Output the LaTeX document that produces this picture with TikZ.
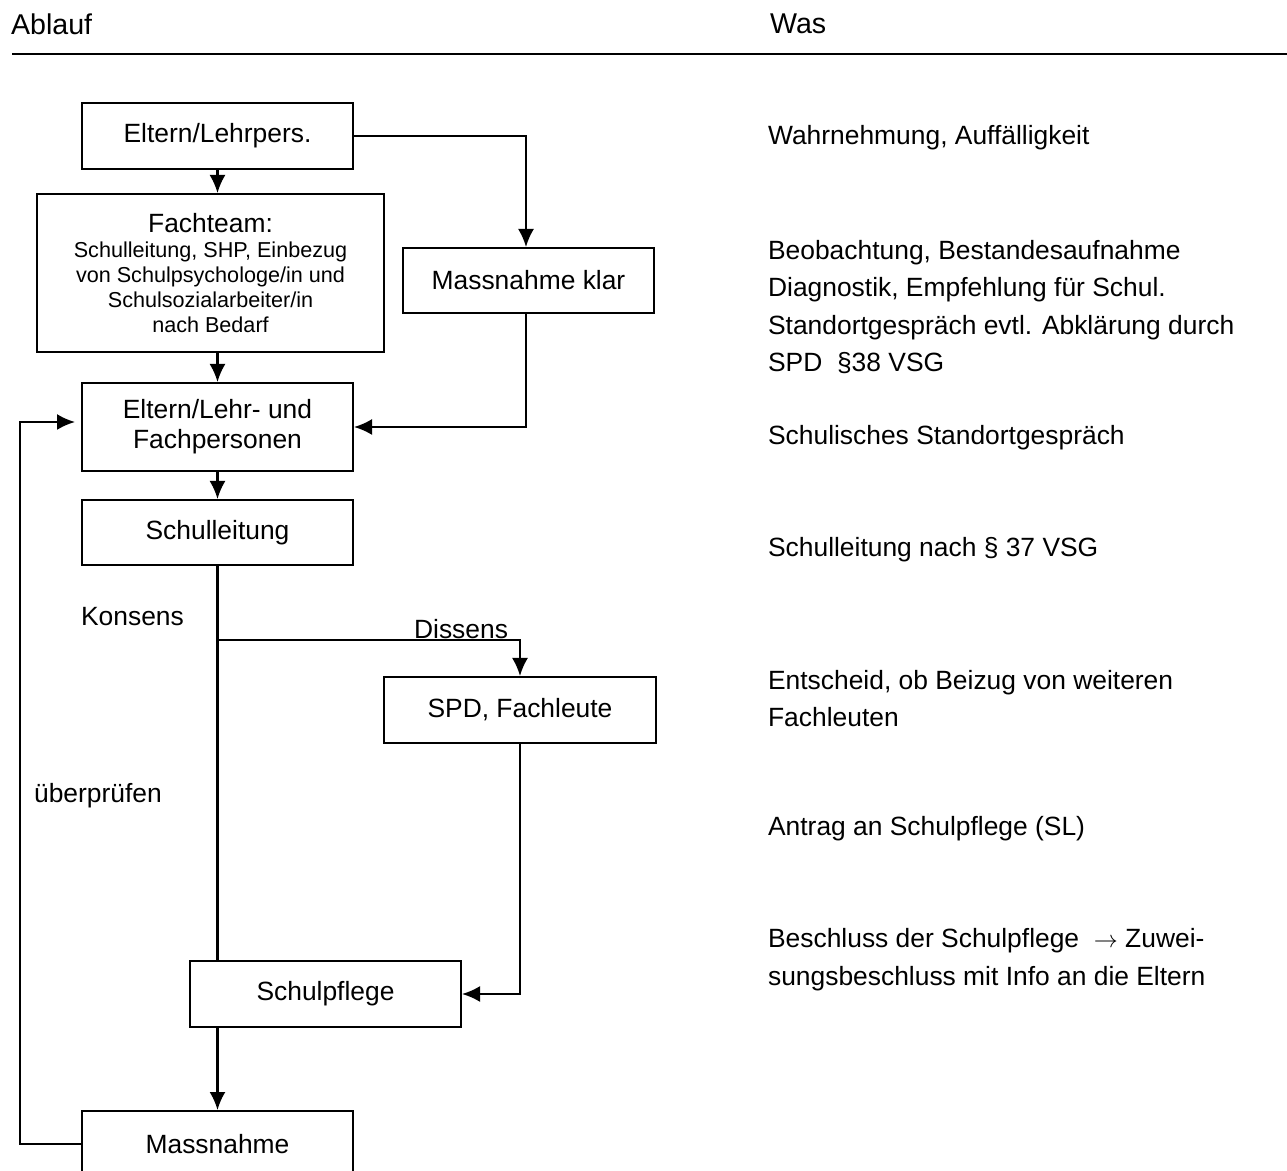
\documentclass[tikz,border=0pt]{standalone}
\usepackage{fontspec}
\setmainfont{Liberation Sans}
\usetikzlibrary{arrows.meta,positioning}

\begin{document}
\begin{tikzpicture}[x=0.5pt,y=-0.5pt,>={Latex[length=9pt,width=8pt]},line width=1.1pt,
  every node/.style={inner sep=0pt,font=\fontsize{13.2}{15}\selectfont},
  box/.style={draw,line width=1pt,align=center,minimum width=135.5pt,minimum height=33pt},
  was/.style={anchor=west,align=left,font=\fontsize{13.2}{18.75}\selectfont}]
\useasboundingbox (0,0) rectangle (1287,1171);
%% Kopfzeile
\node (ablauf) at (10,24) [anchor=west,font=\fontsize{14.3}{16}\selectfont] {Ablauf};
\node (was) at (769,24) [anchor=west,font=\fontsize{14.3}{16}\selectfont] {Was};
\draw [line width=1.3pt] (12,54) -- (1287,54);
%% Ablauf
\node (elt) at (217.5,136) [box] {Eltern/Lehrpers.};
\node (fach) at (210.5,273) [box,minimum width=173.5pt,minimum height=79pt,
  font=\fontsize{10.8}{12.5}\selectfont]
  {{\fontsize{13.2}{15}\selectfont Fachteam:}\\ Schulleitung, SHP, Einbezug\\
   von Schulpsychologe/in und\\ Schulsozialarbeiter/in\\ nach Bedarf};
\node (klar) at (528.5,280.5) [box,minimum width=125.5pt,minimum height=32.5pt] {Massnahme klar};
\node (fachp) at (217.5,427) [box,minimum height=44pt] {Eltern/Lehr- und\\Fachpersonen};
\node (sl) at (217.5,532.5) [box,minimum height=32.5pt] {Schulleitung};
\coordinate (gabel) at (217.5,640);
\node (spd) at (520,710) [box,minimum width=136pt] {SPD, Fachleute};
\node (spf) at (325.5,994) [box] {Schulpflege};
\node (mass) at (217.5,1144) [box] {Massnahme};
\node (konsens) at (80,617) [anchor=west] {Konsens};
\node (dissens) at (413,629) [anchor=west] {Dissens};
\node (pruefen) at (33,796) [anchor=west] {überprüfen};
%
\draw [->] (elt) -- (elt.south |- fach.north);
\draw [->] (fachp.north |- fach.south) -- (fachp);
\draw [->] (fachp) -- (sl);
\draw (sl.south) -- (sl.south |- spf.north);
\draw [->] (gabel) -| (spd.north);
\draw [->] (spd.south) |- (spf.east);
\draw [->] (spf.south -| mass.north) -- (mass.north);
\draw [->] (elt.east) -| ([xshift=-1.25pt]klar.north);
\draw [->] ([xshift=-1.25pt]klar.south) |- (fachp.east);
\draw [->,shorten >=3pt] (mass.west) -- ++(-61,0) |- ([yshift=2.5pt]fachp.west);
%% Was
\node (w1) at (767,138) [was] {Wahrnehmung, Auffälligkeit};
\node (w2) at (767,307) [was] {Beobachtung, Bestandesaufnahme\\
  Diagnostik, Empfehlung für Schul.\\ Standortgespräch evtl. Abklärung durch\\ SPD\ \ §38 VSG};
\node (w3) at (767,438) [was] {Schulisches Standortgespräch};
\node (w4) at (767,550) [was] {Schulleitung nach § 37 VSG};
\node (w5) at (767,698.5) [was] {Entscheid, ob Beizug von weiteren\\ Fachleuten};
\node (w6) at (767,829) [was] {Antrag an Schulpflege (SL)};
\node (w7) at (767,959.5) [was] {Beschluss der Schulpflege\ \ $\rightarrow$ Zuwei-\\
  sungsbeschluss mit Info an die Eltern};
%
\end{tikzpicture}
\end{document}
